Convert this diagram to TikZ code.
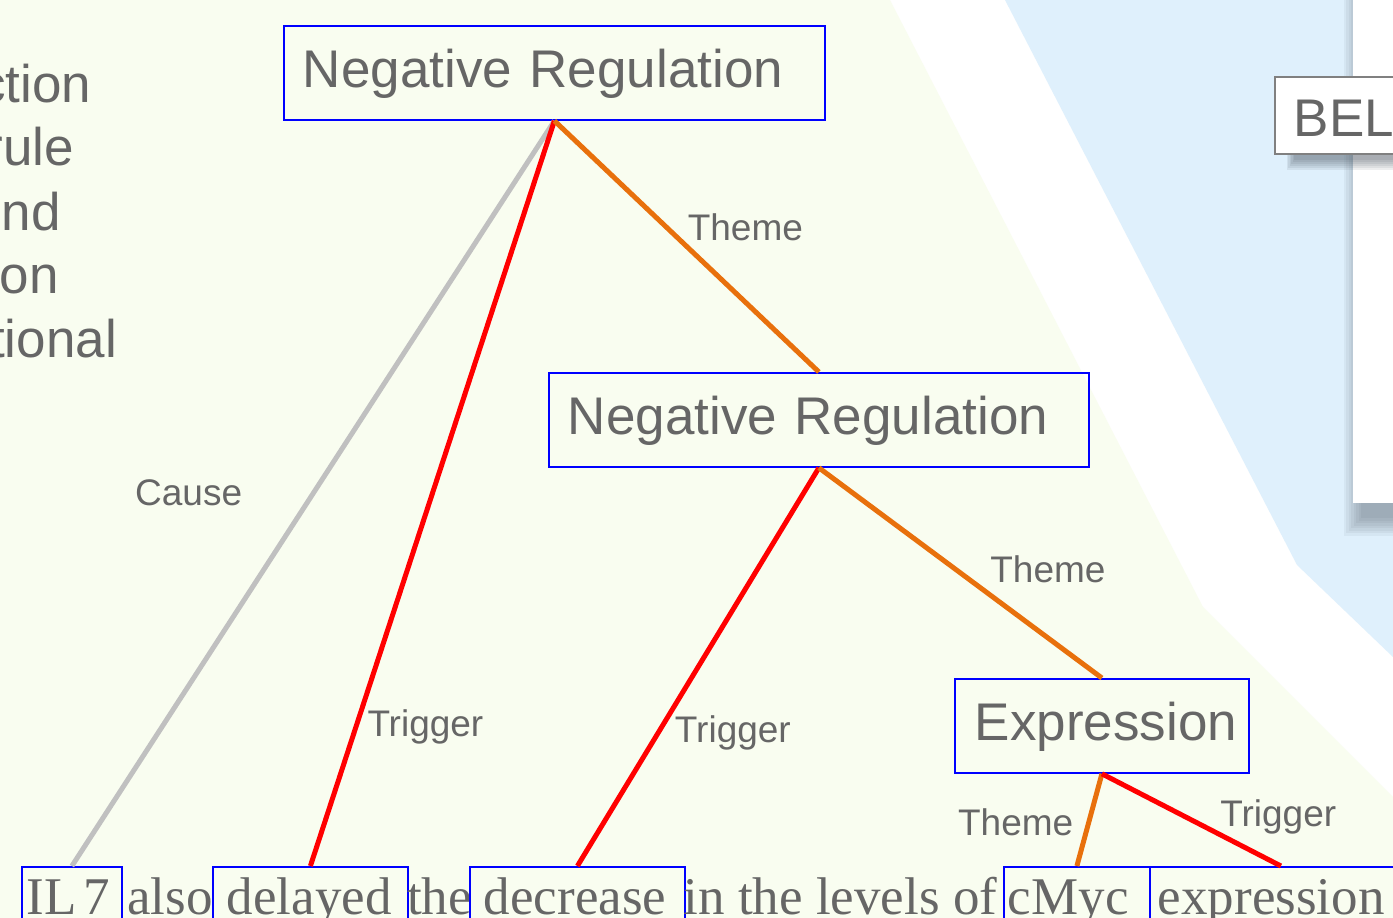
\documentclass[tikz,border=0pt]{standalone}
\usepackage{fontspec}
\setmainfont{Liberation Serif}
\newfontfamily\arialfont{Liberation Sans}
\usetikzlibrary{positioning}
\definecolor{txtgray}{RGB}{102,102,102}
\definecolor{paleground}{RGB}{249,253,240}
\definecolor{skyground}{RGB}{223,240,252}
\definecolor{themeorange}{RGB}{232,112,12}
\definecolor{causegray}{RGB}{192,192,192}
\definecolor{shadegray}{RGB}{60,72,84}

\begin{document}
\begin{tikzpicture}[
    x=1pt, y=-1pt,
    evtbox/.style={draw=blue, line width=1.8pt, anchor=north west, text=txtgray,
        font=\arialfont\fontsize{53}{60}\selectfont, align=left,
        inner xsep=0pt, inner ysep=0pt, text height=62pt, text depth=32pt},
    wordbox/.style={draw=blue, line width=1.8pt, anchor=north west, text=txtgray,
        font=\fontsize{53}{60}\selectfont, align=left,
        inner xsep=0pt, inner ysep=0pt, text height=48pt, text depth=20pt},
    word/.style={anchor=base west, inner sep=0pt, text=txtgray, font=\fontsize{53}{60}\selectfont},
    sidetext/.style={anchor=base east, inner sep=0pt, text=txtgray, font=\arialfont\fontsize{53}{60}\selectfont},
    belbox/.style={draw=gray, fill=white, line width=1.5pt, anchor=north west, text=txtgray,
        font=\arialfont\fontsize{53}{60}\selectfont, align=left,
        inner xsep=0pt, inner ysep=0pt, text height=60pt, text depth=17pt},
    lpad/.style={execute at begin node={\hspace*{#1}}},
    arglabel/.style={inner sep=0pt, text=txtgray, font=\arialfont\fontsize{37}{40}\selectfont,
        text height=26.5pt, text depth=0pt},
    trigger/.style={draw=red, line width=5pt},
    theme/.style={draw=themeorange, line width=5pt},
    cause/.style={draw=causegray, line width=5pt}
]
    \useasboundingbox (0,0) rectangle (1393,918);

    % Background
    \fill[white] (0,0) rectangle (1393,918);
    \fill[paleground] (0,0) -- (890,0) -- (1203,607) -- (1393,797) -- (1393,918) -- (0,918) -- cycle;
    \fill[skyground] (1005,0) -- (1393,0) -- (1393,657) -- (1297,565) -- cycle;
    \foreach \k in {0,...,7}
        \fill[shadegray, opacity=0.06] (1361-2.5*\k,0) rectangle (1400,518+2.5*\k);
    \fill[white] (1353,0) rectangle (1393,503);
    \foreach \k in {0,...,5}
        \fill[shadegray, opacity=0.09] (1294-1.5*\k,100) rectangle (1400,160+2*\k);
    \node[belbox, text width=180pt, lpad=19pt] (bel) at (1274,76) {BEL};

    % Cut-off text on the left
    \foreach \frag/\rx/\by in {ction/91.5/102, rule/74/165, nd/61/230, on/59/293, tional/117/357}
        \node[sidetext] (side-\frag) at (\rx,\by) {\frag};

    % Events
    \node[evtbox, text width=541pt, lpad=19pt] (negreg1) at (283,25) {Negative Regulation};
    \node[evtbox, text width=540pt, lpad=19pt] (negreg2) at (548,372) {Negative Regulation};
    \node[evtbox, text width=294pt, lpad=20pt] (expression) at (954,678) {Expression};

    % Sentence
    \node[wordbox, text width=100pt, lpad=5pt] (il7) at (21,866) {IL\kern7pt 7};
    \node[word] (also) at (127,914) {also};
    \node[wordbox, text width=195pt, lpad=14pt] (delayed) at (212,866) {delayed};
    \node[word] (the) at (407,914) {the};
    \node[wordbox, text width=215pt, lpad=14pt] (decrease) at (469,866) {decrease};
    \node[word] (levels) at (683.5,914) {in the levels of};
    \node[wordbox, text width=146pt, lpad=4pt] (cmyc) at (1003,866) {cMyc};
    \node[wordbox, text width=262pt, lpad=8pt] (exprword) at (1149,866) {expression};

    % Arguments
    \draw[cause] (negreg1.south) -- (il7.north)
        node[arglabel, pos=0.499, anchor=east, xshift=-69pt] (lbl-cause) {Cause};
    \draw[trigger] (negreg1.south) -- (delayed.north)
        node[arglabel, pos=0.809, anchor=west, xshift=8pt] (lbl-trig1) {Trigger};
    \draw[theme] (negreg1.south) -- (negreg2.north)
        node[arglabel, pos=0.423, anchor=west, xshift=19pt] (lbl-theme1) {Theme};
    \draw[trigger] (negreg2.south) -- (decrease.north)
        node[arglabel, pos=0.656, anchor=west, xshift=12pt] (lbl-trig2) {Trigger};
    \draw[theme] (negreg2.south) -- (expression.north)
        node[arglabel, pos=0.484, anchor=west, xshift=32pt] (lbl-theme2) {Theme};
    \draw[theme] (expression.south) -- (cmyc.north)
        node[arglabel, pos=0.526, anchor=east, xshift=-13pt] (lbl-theme3) {Theme};
    \draw[trigger] (expression.south) -- (exprword.north)
        node[arglabel, pos=0.43, anchor=west, xshift=39pt] (lbl-trig3) {Trigger};
\end{tikzpicture}
\end{document}
